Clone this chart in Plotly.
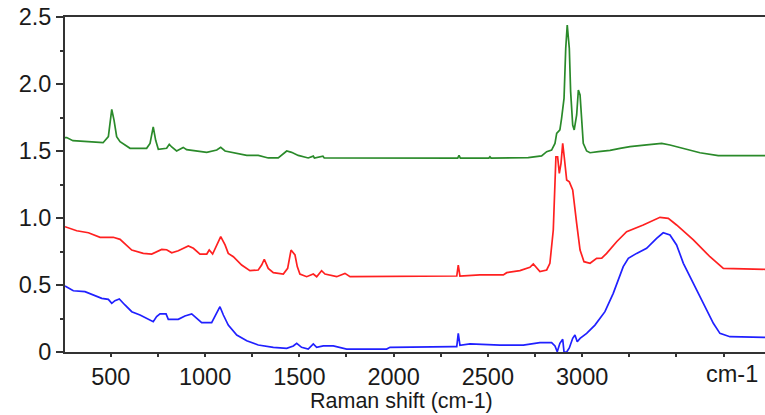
import plotly.graph_objects as go

# Raman shift (cm-1) / intensity
green_x = [257, 266, 299, 400, 459, 487, 505, 517, 531, 549, 602, 690, 708, 725, 738, 752, 796, 810, 823,
           849, 884, 902, 956, 1009, 1062, 1083, 1106, 1150, 1221, 1282, 1335, 1388, 1415, 1433, 1459,
           1494, 1547, 1574, 1580, 1625, 1632, 2340, 2347, 2354, 2505, 2511, 2517, 2670, 2714, 2785, 2812,
           2838, 2856, 2865, 2882, 2891, 2904, 2913, 2921, 2932, 2939, 2950, 2958, 2971, 2980, 2989, 2998,
           3006, 3024, 3042, 3086, 3148, 3201, 3254, 3342, 3422, 3466, 3555, 3625, 3722, 3970]
green_y = [1.60, 1.60, 1.577, 1.569, 1.562, 1.607, 1.81, 1.73, 1.607, 1.569, 1.52, 1.52, 1.557, 1.68, 1.58,
           1.513, 1.52, 1.55, 1.53, 1.50, 1.527, 1.51, 1.502, 1.49, 1.507, 1.527, 1.50, 1.487, 1.467, 1.467,
           1.448, 1.448, 1.483, 1.50, 1.49, 1.467, 1.448, 1.462, 1.448, 1.462, 1.448, 1.447, 1.468, 1.447,
           1.447, 1.457, 1.447, 1.447, 1.45, 1.463, 1.495, 1.507, 1.557, 1.632, 1.657, 1.744, 1.893, 2.266,
           2.44, 2.266, 1.943, 1.694, 1.657, 1.769, 1.955, 1.918, 1.719, 1.557, 1.50, 1.487, 1.495, 1.505,
           1.52, 1.532, 1.545, 1.557, 1.545, 1.512, 1.487, 1.465, 1.465]

red_x = [257, 266, 319, 381, 443, 513, 549, 611, 672, 717, 770, 796, 823, 858, 911, 938, 973, 1009, 1022,
         1040, 1062, 1083, 1106, 1123, 1150, 1194, 1238, 1282, 1300, 1314, 1335, 1362, 1415, 1438, 1456,
         1477, 1489, 1503, 1539, 1574, 1592, 1618, 1636, 1698, 1742, 1769, 2335, 2343, 2352, 2458, 2582,
         2600, 2670, 2723, 2741, 2759, 2776, 2812, 2829, 2847, 2861, 2870, 2879, 2888, 2897, 2905, 2918,
         2932, 2950, 2971, 2989, 3010, 3042, 3077, 3104, 3130, 3183, 3236, 3324, 3413, 3457, 3501, 3590,
         3678, 3749, 3970]
red_y = [0.935, 0.930, 0.905, 0.890, 0.856, 0.856, 0.841, 0.761, 0.736, 0.731, 0.766, 0.763, 0.741, 0.756,
         0.791, 0.774, 0.731, 0.731, 0.761, 0.731, 0.799, 0.861, 0.799, 0.736, 0.711, 0.649, 0.607, 0.612,
         0.649, 0.692, 0.624, 0.592, 0.582, 0.624, 0.761, 0.724, 0.637, 0.582, 0.562, 0.582, 0.562, 0.607,
         0.582, 0.562, 0.587, 0.562, 0.567, 0.649, 0.567, 0.575, 0.575, 0.592, 0.607, 0.632, 0.657, 0.625,
         0.60, 0.612, 0.662, 0.91, 1.457, 1.457, 1.333, 1.408, 1.557, 1.457, 1.284, 1.27, 1.209, 0.960, 0.761,
         0.674, 0.662, 0.699, 0.70, 0.736, 0.823, 0.898, 0.948, 1.005, 0.997, 0.948, 0.836, 0.711, 0.624,
         0.617]

blue_x = [257, 301, 363, 407, 452, 487, 505, 522, 545, 575, 611, 655, 690, 725, 743, 761, 793, 805, 858,
          893, 929, 947, 982, 1035, 1058, 1079, 1097, 1123, 1168, 1221, 1282, 1362, 1433, 1468, 1486, 1512,
          1547, 1574, 1592, 1627, 1680, 1751, 1963, 1981, 2317, 2335, 2343, 2352, 2405, 2564, 2688, 2776,
          2838, 2856, 2868, 2882, 2897, 2904, 2918, 2932, 2950, 2962, 2974, 2989, 3024, 3068, 3121, 3165,
          3218, 3245, 3289, 3342, 3395, 3430, 3466, 3501, 3537, 3590, 3643, 3696, 3731, 3784, 3970]
blue_y = [0.493, 0.457, 0.450, 0.425, 0.40, 0.393, 0.363, 0.383, 0.396, 0.351, 0.301, 0.276, 0.251, 0.226,
          0.264, 0.284, 0.284, 0.244, 0.244, 0.269, 0.284, 0.264, 0.219, 0.219, 0.276, 0.338, 0.276, 0.201,
          0.127, 0.084, 0.052, 0.035, 0.027, 0.045, 0.065, 0.035, 0.022, 0.060, 0.035, 0.045, 0.045, 0.022,
          0.022, 0.035, 0.04, 0.04, 0.139, 0.05, 0.06, 0.052, 0.052, 0.07, 0.07, 0.045, 0.002, 0.065, 0.095,
          0.0, 0.0, 0.03, 0.102, 0.127, 0.077, 0.102, 0.139, 0.201, 0.301, 0.438, 0.637, 0.699, 0.736, 0.774,
          0.848, 0.890, 0.873, 0.799, 0.662, 0.513, 0.363, 0.214, 0.139, 0.114, 0.109]

x_tick_vals = [500, 1000, 1500, 2000, 2500, 3000]
x_tick_text = ["500", "1000", "1500", "2000", "2500", "3000"]
x_minor_vals = [750, 1250, 1750, 2250, 2750, 3250, 3500, 3750]
y_tick_vals = [0, 0.5, 1.0, 1.5, 2.0, 2.5]
y_tick_text = ["0", "0.5", "1.0", "1.5", "2.0", "2.5"]
y_minor_vals = [0.25, 0.75, 1.25, 1.75, 2.25]

FONT = "Liberation Sans, Arial, sans-serif"
TXT = "#1a1a1a"
TICK_SIZE = 23.5

fig = go.Figure()
for xs, ys, col in [(green_x, green_y, "#2a8a2a"), (red_x, red_y, "#ff2020"), (blue_x, blue_y, "#2020ff")]:
    fig.add_trace(go.Scatter(x=xs, y=ys, mode="lines", line=dict(color=col, width=1.7),
                             showlegend=False, hoverinfo="skip"))

fig.update_layout(
    width=765, height=415,
    margin=dict(l=65, r=0, t=17, b=63),
    paper_bgcolor="white", plot_bgcolor="white",
    font=dict(family=FONT, color=TXT, size=22),
    xaxis=dict(range=[257, 3970], showgrid=False, zeroline=False,
               showline=True, linecolor="#333333", linewidth=2, mirror=True,
               ticks="outside", ticklen=3, tickwidth=1.5, tickcolor="#333333",
               tickvals=x_tick_vals, ticktext=x_tick_text,
               tickfont=dict(family=FONT, size=TICK_SIZE, color=TXT),
               minor=dict(tickvals=x_minor_vals, ticks="outside", ticklen=3, tickwidth=1.5,
                          tickcolor="#333333", showgrid=False)),
    yaxis=dict(range=[0, 2.5], showgrid=False, zeroline=False,
               showline=True, linecolor="#333333", linewidth=2,
               ticks="outside", ticklen=7, tickwidth=1.5, tickcolor="#333333",
               tickvals=y_tick_vals, ticktext=y_tick_text,
               tickfont=dict(family=FONT, size=TICK_SIZE, color=TXT),
               minor=dict(tickvals=y_minor_vals, ticks="outside", ticklen=3, tickwidth=1.5,
                          tickcolor="#333333", showgrid=False)),
)

fig.add_annotation(text="Raman shift (cm-1)", xref="paper", yref="paper", x=0.48, y=-0.185,
                   xanchor="center", yanchor="bottom", showarrow=False, borderpad=0,
                   font=dict(family=FONT, size=21.5, color=TXT))
fig.add_annotation(text="cm-1", xref="paper", yref="paper", x=0.953, y=-0.066,
                   xanchor="center", yanchor="middle", showarrow=False,
                   font=dict(family=FONT, size=TICK_SIZE, color=TXT))

fig.write_html("out.html")
